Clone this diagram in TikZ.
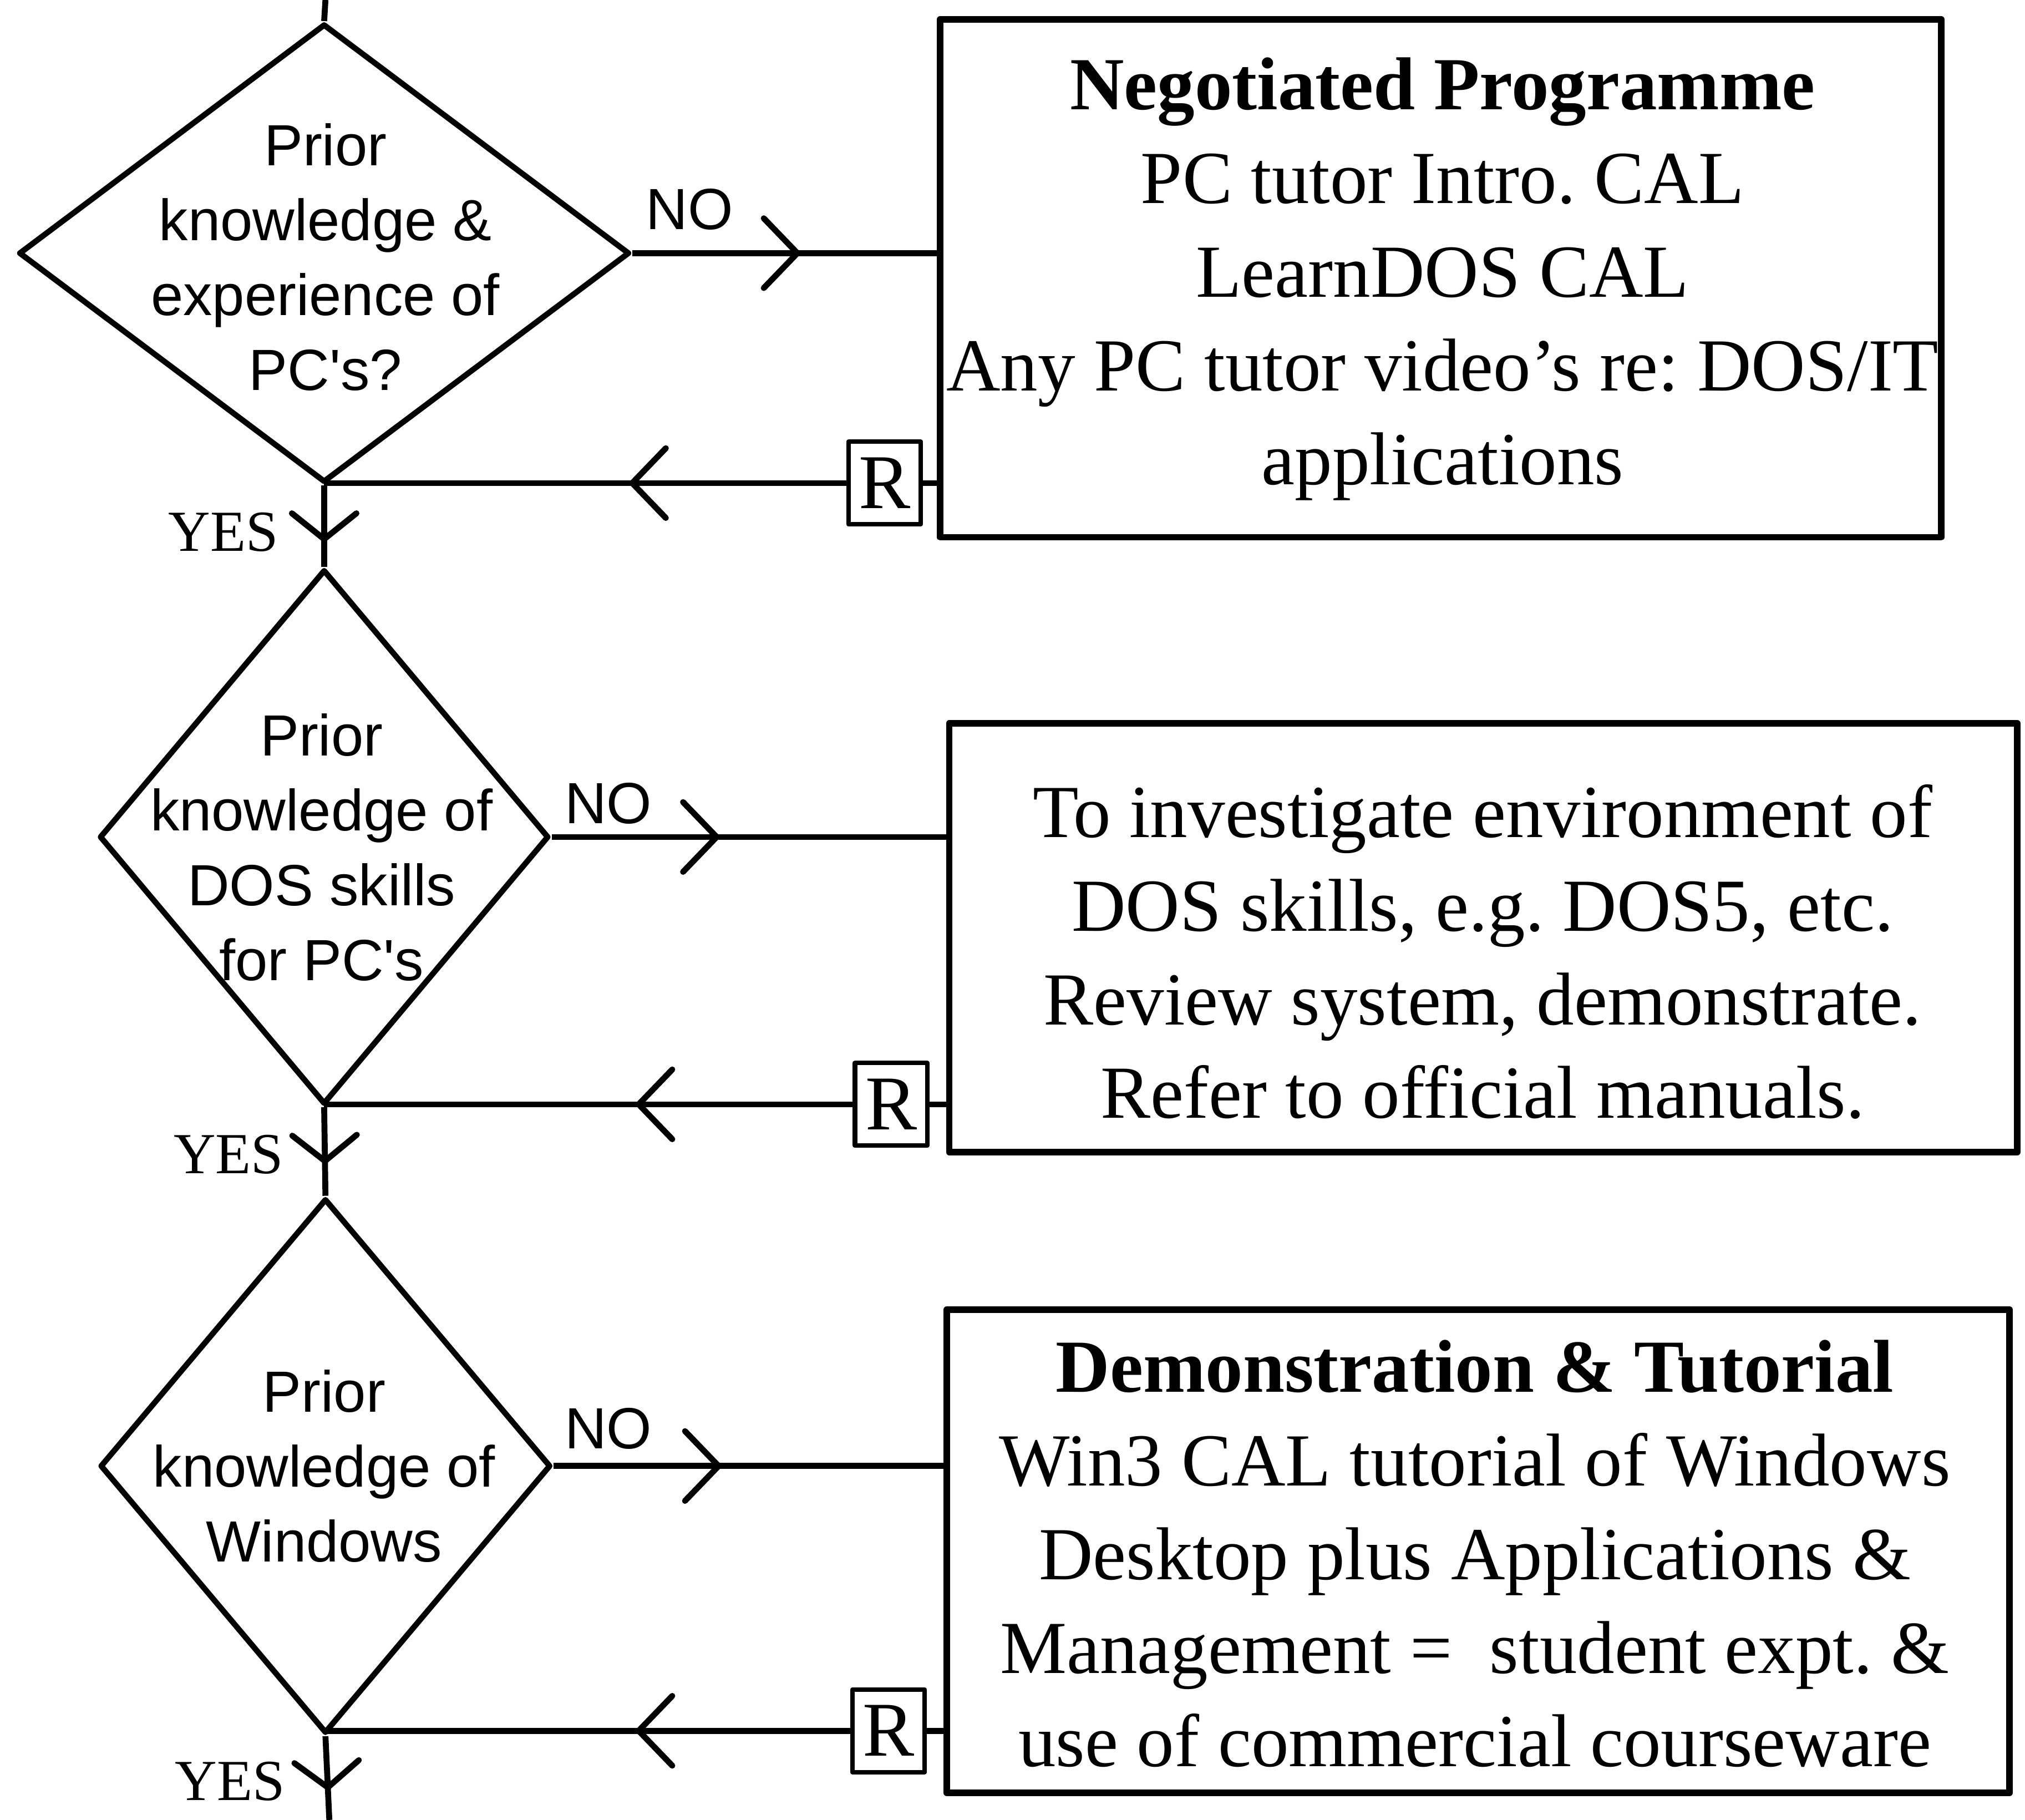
\documentclass[tikz,border=0pt]{standalone}
\usepackage{fontspec}
\setmainfont{Liberation Serif}
\newfontfamily\decfont{Liberation Sans}
\usetikzlibrary{shapes.geometric,arrows.meta,decorations.markings}
\frenchspacing

\begin{document}
\begin{tikzpicture}[x=1pt,y=-1pt,line width=4.6pt,line join=round,
  decision/.style={draw,diamond,inner sep=0pt,line width=4.4pt},
  panel/.style={draw,rectangle,inner sep=0pt,line width=5pt},
  dtext/.style={align=center,inner sep=0pt,font=\decfont\fontsize{45}{58}\selectfont},
  ptext/.style={align=center,inner sep=0pt,font=\fontsize{58}{72.5}\selectfont},
  rbox/.style={draw,rectangle,line width=3.5pt,inner sep=0pt,minimum width=56pt,minimum height=64pt,font=\fontsize{60}{60}\selectfont},
  nolabel/.style={inner sep=0pt,font=\decfont\fontsize{45}{45}\selectfont},
  yeslabel/.style={inner sep=0pt,font=\fontsize{45}{45}\selectfont},
  fwd/.style={decoration={markings,mark=at position #1 with {\arrow{Straight Barb[length=26pt,width=54pt,line width=4.6pt,round]}}},postaction={decorate}},
  down/.style={decoration={markings,mark=at position #1 with {\arrow{Straight Barb[length=20pt,width=50pt,line width=4.6pt,round]}}},postaction={decorate}}]

\useasboundingbox (0,0) rectangle (1568,1409);

% decision diamonds
\node[decision,minimum width=473pt,minimum height=355pt] (d1) at (251,196) {};
\node[decision,minimum width=348pt,minimum height=414pt] (d2) at (251,648) {};
\node[decision,minimum width=349pt,minimum height=414pt] (d3) at (252,1135) {};

\node[dtext] (t1) at (252,199) {Prior\\knowledge \&\\experience of\\PC's?};
\node[dtext] (t2) at (249,656) {Prior\\knowledge of\\DOS skills\\for PC's};
\node[dtext] (t3) at (251,1135) {Prior\\knowledge of\\Windows};

% action panels
\node[panel,minimum width=775pt,minimum height=401pt] (b1) at (1115.5,215.5) {};
\node[panel,minimum width=827pt,minimum height=332pt] (b2) at (1148.5,726) {};
\node[panel,minimum width=823pt,minimum height=374pt] (b3) at (1144.5,1201) {};

\node[ptext] (p1) at (1117,216) {\textbf{Negotiated Programme}\\PC tutor Intro. CAL\\LearnDOS CAL\\Any PC tutor video's re: DOS/IT\\applications};
\node[ptext] (p2) at (1148,737) {To investigate environment of\\DOS skills, e.g. DOS5, etc.\\Review system, demonstrate.\\Refer to official manuals.};
\node[ptext] (p3) at (1142,1203) {\textbf{Demonstration \& Tutorial}\\Win3 CAL tutorial of Windows\\Desktop plus Applications \&\\Management =\ \ student expt. \&\\use of commercial courseware};

% return markers
\node[rbox] (r1) at (685,374) {R};
\node[rbox] (r2) at (690,855) {R};
\node[rbox] (r3) at (688,1340) {R};

% branch labels
\node[nolabel] (n1) at (534,162) {NO};
\node[nolabel] (n2) at (471,622) {NO};
\node[nolabel] (n3) at (471,1106) {NO};
\node[yeslabel] (y1) at (173,412) {YES};
\node[yeslabel] (y2) at (177,894) {YES};
\node[yeslabel] (y3) at (178,1379) {YES};

\coordinate (entry) at (252,0);
\coordinate (exit) at (255,1409);

% main flow
\draw (entry) -- (d1.north);
\draw[down=44pt] (d1.south) -- (d2.north);
\draw[down=44pt] (d2.south) -- (d3.north);
\draw[down=42pt] (d3.south) -- (exit);

% NO branches
\draw[fwd=130pt] (d1.east) -- (d1.east -| b1.west);
\draw[fwd=130pt] (d2.east) -- (d2.east -| b2.west);
\draw[fwd=130pt] (d3.east) -- (d3.east -| b3.west);

% returns
\draw (r1.east) -- (r1.east -| b1.west);
\draw (r2.east) -- (r2.east -| b2.west);
\draw (r3.east) -- (r3.east -| b3.west);
\draw[fwd=168pt] (r1.west) -- (r1.west -| d1.south);
\draw[fwd=168pt] (r2.west) -- (r2.west -| d2.south);
\draw[fwd=166pt] (r3.west) -- (r3.west -| d3.south);
\end{tikzpicture}
\end{document}
